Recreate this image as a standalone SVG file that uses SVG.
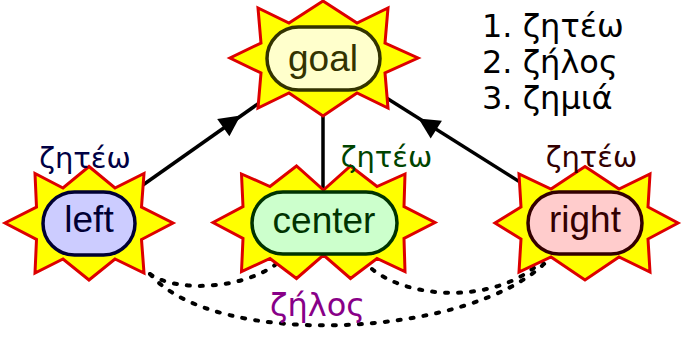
<svg xmlns="http://www.w3.org/2000/svg" width="688" height="344" viewBox="0 0 688 344">
<style>
.star{fill:#ffff00;stroke:#dd0000;stroke-width:3;stroke-linejoin:miter}
.box{stroke-width:3.5}
.t{font-family:"Liberation Sans",Arial,sans-serif;font-size:37px;text-anchor:middle}
.lbl{font-family:"DejaVu Sans",sans-serif;font-size:29px;text-anchor:middle}
.big{font-size:32px}
.leg{font-family:"DejaVu Sans",sans-serif;font-size:32px;fill:#000}
.edge{stroke:#000;stroke-width:3.5;fill:none}
.dash{stroke:#000;stroke-width:4;fill:none;stroke-dasharray:3 10;stroke-linecap:round}
.head{fill:#000}
</style>
<rect width="688" height="344" fill="#fff"/>
<g id="connectors">
<line class="edge" x1="89" y1="223" x2="323" y2="58"/>
<line class="edge" x1="585" y1="223" x2="323" y2="58"/>
<line class="edge" x1="323" y1="58" x2="323" y2="222"/>
<polygon class="head" points="240.5,115.5 229.4,136.2 217.2,119"/>
<polygon class="head" points="418.5,118.5 441.9,120.8 430.7,138.6"/>
<path class="dash" d="M150,274 C175,292 240,290 275,265"/>
<path class="dash" d="M150,274 C215,350 470,338 546,262"/>
<path class="dash" d="M372,269 C410,300 500,305 545,258"/>
</g>
<g id="goal">
<polygon class="star" points="323,1 357,23 388,8 385,43 418,58 385,73 388,108 357,93 323,116 289,93 258,108 261,73 230,58 261,43 258,8 289,23"/>
<rect class="box" x="267" y="27" width="113" height="63" rx="31.5" fill="#ffffcc" stroke="#333300"/>
<text class="t" x="323" y="71" fill="#333300">goal</text>
</g>
<g id="left">
<polygon class="star" points="89,166.5 115,188 144,173.5 141.5,207 173,223 141.5,239.5 144,273 115,259 89,280 63,259 35,273 36.5,239.5 5,223 36.5,207 35,173.5 63,188"/>
<rect class="box" x="43" y="192" width="92" height="63" rx="31.5" fill="#ccccff" stroke="#000033"/>
<text class="t" x="89" y="232" fill="#000033">left</text>
</g>
<g id="center">
<polygon class="star" points="213,222.5 243,206.5 241.5,174 270,186.5 296.5,166 323.5,190 350.5,166 377,186.5 405,174 404,206.5 435,222.5 404,238.5 405,271.5 377,258.5 350.5,278.5 323.5,255 296.5,278.5 270,258.5 241.5,271.5 243,238.5"/>
<rect class="box" x="252" y="192" width="145" height="62" rx="31" fill="#ccffcc" stroke="#003300"/>
<text class="t" x="324" y="232.5" fill="#003300">center</text>
</g>
<g id="right">
<polygon class="star" points="585,166.5 619,189 650,174 648,207 678,223 648,239 650,272 619,257 585,280 551,257 519,272 521,239 495,223 521,207 519,174 551,189"/>
<rect class="box" x="528" y="192" width="114" height="62" rx="31" fill="#ffcccc" stroke="#330000"/>
<text class="t" x="585" y="232" fill="#330000">right</text>
</g>
<g id="labels">
<text class="lbl" x="85" y="168" fill="#000044">ζητέω</text>
<text class="lbl" x="386.5" y="167" fill="#004400">ζητέω</text>
<text class="lbl" x="591.5" y="167" fill="#330000">ζητέω</text>
<text class="lbl big" x="317.5" y="316" fill="#880088">ζήλος</text>
</g>
<g id="legend">
<text class="leg" x="482" y="36.5">1. ζητέω</text>
<text class="leg" x="482" y="72.5">2. ζήλος</text>
<text class="leg" x="482" y="108.5">3. ζημιά</text>
</g>
</svg>
